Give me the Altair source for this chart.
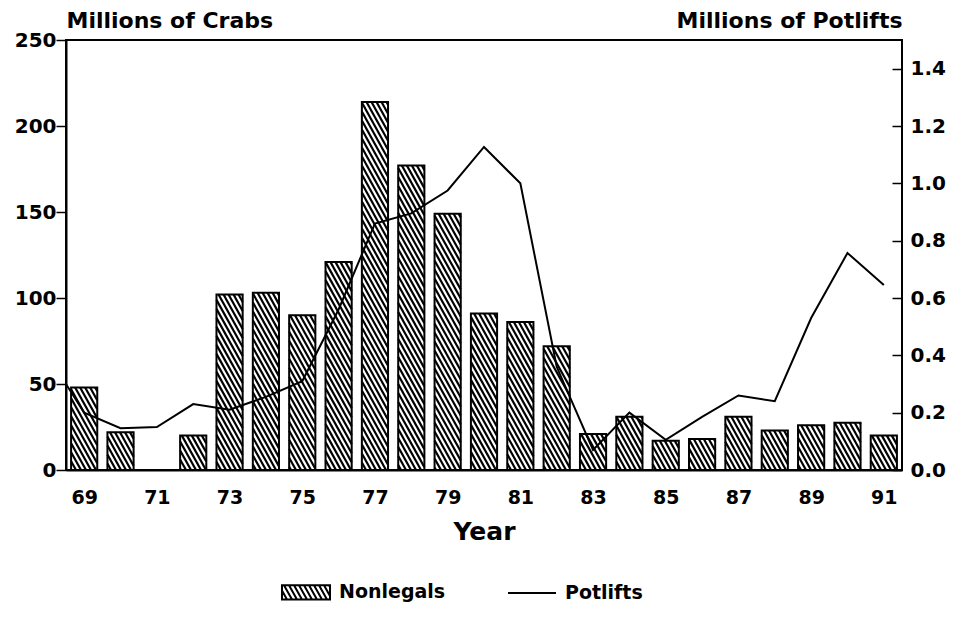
import math
import altair as alt
import pandas as pd

# ---------------- data ----------------
years = list(range(69, 92))
nonlegals = [48, 22, None, 20, 102, 103, 90, 121, 214, 177, 149, 91, 86, 72,
             21, 31, 17, 18, 31, 23, 26, 27.5, 20]
pot_years = [68] + years
potlifts = [0.40, 0.20, 0.146, 0.15, 0.23, 0.21, 0.255, 0.31, 0.56, 0.86, 0.895,
            0.975, 1.127, 1.00, 0.36, 0.07, 0.20, 0.105, 0.185, 0.26, 0.24,
            0.53, 0.757, 0.645]
odd_years = list(range(69, 92, 2))
crab_ticks = [0, 50, 100, 150, 200, 250]
pot_ticks = [0.0, 0.2, 0.4, 0.6, 0.8, 1.0, 1.2, 1.4]
series = ["Nonlegals", "Potlifts"]

# ---------------- layout / style ----------------
W, H = 836, 430
XDOM = [68.5, 91.5]
YDOM = [0, 250]
RDOM = [0, 1.5]
HALF = 0.36          # half bar width, in years
SLOPE = 1.8          # hatch steepness
PERIOD = 5.0         # hatch horizontal period, px
FONT = "DejaVu Sans"
TXT = dict(labelFont=FONT, titleFont=FONT, labelFontWeight="bold",
           titleFontWeight="bold", labelColor="black", titleColor="black")

bars = pd.DataFrame({"year": years, "crabs": nonlegals}).dropna()
bars["x1"] = bars["year"] - HALF
bars["x2"] = bars["year"] + HALF
bars["base"] = 0.0

# hatch segments (computed from the bar values, in data units)
sx = W / (XDOM[1] - XDOM[0])
sy = H / (YDOM[1] - YDOM[0])
rows = []
for yr, v in zip(bars["year"], bars["crabs"]):
    xa = (yr - HALF - XDOM[0]) * sx
    xb = (yr + HALF - XDOM[0]) * sx
    yt = v * sy
    step = SLOPE * PERIOD
    k0 = math.ceil(SLOPE * xa / step)
    k1 = math.floor((yt + SLOPE * xb) / step)
    for k in range(k0, k1 + 1):
        c = k * step
        ylo = max(0.0, c - SLOPE * xb)
        yhi = min(yt, c - SLOPE * xa)
        if yhi - ylo < 0.5:
            continue
        rows.append({
            "hx": (c - ylo) / SLOPE / sx + XDOM[0], "hy": ylo / sy,
            "hx2": (c - yhi) / SLOPE / sx + XDOM[0], "hy2": yhi / sy,
        })
hatch = pd.DataFrame(rows)

# legend swatch path (rectangle with the same hatching)
hh = 0.3
per = PERIOD / 24.0
parts = ["M-1,%.3fH1V%.3fH-1Z" % (-hh, hh)]
k = -1 - hh / SLOPE
while k <= 1 + hh / SLOPE:
    ya = max(-hh, SLOPE * (-1 - k))
    yb = min(hh, SLOPE * (1 - k))
    if yb - ya > 0.02:
        parts.append("M%.3f,%.3fL%.3f,%.3f" % (k + ya / SLOPE, ya, k + yb / SLOPE, yb))
    k += per
swatch = "".join(parts)

pot = pd.DataFrame({"year": pot_years, "pot": potlifts})
leg = pd.DataFrame({"series": series})

xscale = alt.Scale(domain=XDOM, nice=False, zero=False)
yscale = alt.Scale(domain=YDOM, nice=False)

x_axis = alt.Axis(values=odd_years, format="d", title="Year", grid=False,
                  domain=True, domainColor="black", domainWidth=2,
                  ticks=False, labelFontSize=19, labelPadding=18,
                  titleFontSize=25, titlePadding=12, **TXT)

left_axis = alt.Axis(values=crab_ticks, grid=False, domain=True, domainColor="black",
                     domainWidth=2, tickSize=10,
                     tickWidth=1.5, tickColor="black", labelPadding=0,
                     labelFontSize=20, title="Millions of Crabs", titleAngle=0,
                     titleAlign="left", titleBaseline="alphabetic", titleX=0,
                     titleY=-13, titleFontSize=22, **TXT)

right_axis = alt.Axis(values=pot_ticks, format=".1f", grid=False, domain=False,
                      orient="right", offset=-10, tickSize=10, tickWidth=1.5,
                      tickColor="black", labelPadding=8, labelFontSize=20,
                      title="Millions of Potlifts", titleAngle=0,
                      titleAlign="right", titleBaseline="alphabetic", titleX=10,
                      titleY=-13, titleFontSize=22, **TXT)

base_bar = alt.Chart(bars).encode(
    x=alt.X("x1:Q", scale=xscale, axis=x_axis),
    x2="x2:Q",
    y=alt.Y("crabs:Q", scale=yscale, axis=left_axis),
    y2="base:Q",
)
bar_fill = base_bar.mark_bar(color="white", strokeWidth=0)
bar_edge = base_bar.mark_bar(fill="transparent", stroke="black", strokeWidth=2)

hatch_layer = alt.Chart(hatch).mark_rule(color="black", strokeWidth=2.2).encode(
    x=alt.X("hx:Q", scale=xscale),
    y=alt.Y("hy:Q", scale=yscale),
    x2="hx2:Q",
    y2="hy2:Q",
)

legend_layer = alt.Chart(leg).mark_point(opacity=0, color="black", filled=False,
                                        strokeWidth=2).encode(
    shape=alt.Shape("series:N",
                    scale=alt.Scale(domain=series, range=[swatch, "stroke"]),
                    legend=alt.Legend(title=None, orient="none", direction="horizontal",
                                      legendX=215, legendY=527, symbolSize=2304,
                                      symbolStrokeWidth=2, symbolStrokeColor="black",
                                      symbolFillColor="transparent", symbolOpacity=1,
                                      labelFontSize=19, labelOffset=8,
                                      columnPadding=58, labelFont=FONT,
                                      labelFontWeight="bold", labelColor="black")),
)

left = alt.layer(bar_fill, hatch_layer, bar_edge, legend_layer)

line = alt.Chart(pot).mark_line(color="black", strokeWidth=2, clip=True).encode(
    x=alt.X("year:Q", scale=xscale),
    y=alt.Y("pot:Q", scale=alt.Scale(domain=RDOM, nice=False), axis=right_axis),
)

chart = alt.layer(left, line).resolve_scale(y="independent").properties(
    width=W, height=H,
    padding={"left": 6, "top": 1, "right": 0, "bottom": 0},
    view=alt.ViewBackground(stroke="black", strokeWidth=2, fill="white"),
).configure_view(stroke="black", strokeWidth=2).configure(background="white")

chart.save("out.html", embed_options={"renderer": "svg", "actions": False})
